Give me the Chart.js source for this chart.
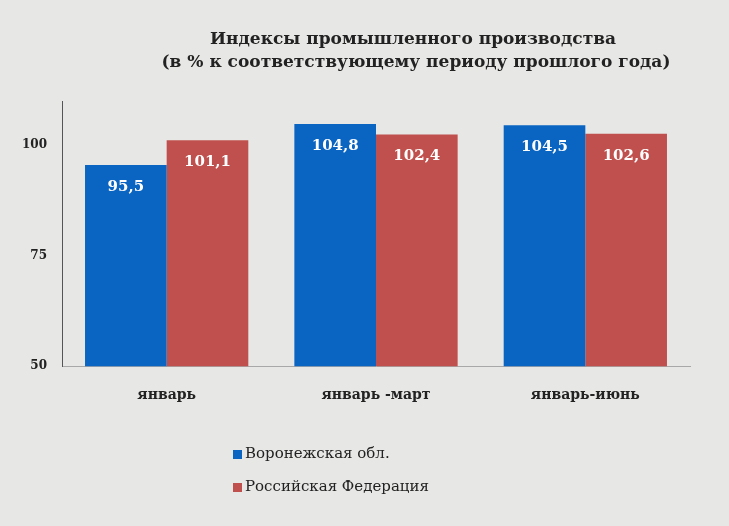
<!DOCTYPE html>
<html>
<head>
<meta charset="utf-8">
<script src="https://cdn.jsdelivr.net/npm/chart.js@4/dist/chart.umd.min.js"></script>
<style>
  html, body { margin: 0; padding: 0; background: #e7e7e5; }
  #wrap { width: 729px; height: 526px; }
</style>
</head>
<body>
<div id="wrap"><canvas id="prod-chart" width="729" height="526"></canvas></div>
<script>
var periods = ["январь", "январь -март", "январь-июнь"];
var voronezh = [95.5, 104.8, 104.5];
var russia = [101.1, 102.4, 102.6];
var seriesNames = ["Воронежская обл.", "Российская Федерация"];
var titleLines = [
  "Индексы промышленного производства",
  "(в % к соответствующему периоду прошлого года)"
];

var serif = "'DejaVu Serif', 'Liberation Serif', serif";

// title, value labels and the vertical legend are drawn by hand
var decor = {
  id: "decor",
  beforeDraw: function(chart) {
    var ctx = chart.ctx;
    ctx.save();
    ctx.fillStyle = "#e7e7e5";
    ctx.fillRect(0, 0, chart.width, chart.height);
    ctx.restore();
  },
  afterDatasetsDraw: function(chart) {
    var ctx = chart.ctx;
    ctx.save();
    ctx.fillStyle = "#ffffff";
    ctx.font = "bold 15px " + serif;
    ctx.textAlign = "center";
    ctx.textBaseline = "middle";
    chart.data.datasets.forEach(function(ds, i) {
      chart.getDatasetMeta(i).data.forEach(function(bar, j) {
        ctx.fillText(String(ds.data[j]).replace(".", ","), bar.x, bar.y + 22);
      });
    });
    ctx.restore();
  },
  afterDraw: function(chart) {
    var ctx = chart.ctx;
    ctx.save();
    ctx.fillStyle = "#222222";
    ctx.textAlign = "center";
    ctx.textBaseline = "middle";
    ctx.font = "bold 17px " + serif;
    ctx.fillText(titleLines[0], 413, 40);
    ctx.fillText(titleLines[1], 416, 63);

    ctx.textAlign = "left";
    ctx.font = "15px " + serif;
    chart.data.datasets.forEach(function(ds, i) {
      var y = 454 + i * 33;
      ctx.fillStyle = ds.backgroundColor;
      ctx.fillRect(233, y - 4, 9, 9);
      ctx.fillStyle = "#222222";
      ctx.fillText(ds.label, 245, y);
    });
    ctx.restore();
  }
};

var config = {
  type: "bar",
  data: {
    labels: periods,
    datasets: [
      {
        label: seriesNames[0],
        data: voronezh,
        backgroundColor: "#0a64c1"
      },
      {
        label: seriesNames[1],
        data: russia,
        backgroundColor: "#c0504d"
      }
    ]
  },
  options: {
    responsive: false,
    animation: false,
    layout: { padding: { top: 101, left: 8, right: 39, bottom: 101 } },
    datasets: {
      bar: { categoryPercentage: 0.78, barPercentage: 1 }
    },
    scales: {
      x: {
        grid: { display: false, drawTicks: false },
        border: { display: true, color: "#a8a8a8", width: 1 },
        ticks: {
          padding: 21,
          color: "#222222",
          font: { family: serif, size: 14, weight: "bold" }
        }
      },
      y: {
        min: 50,
        max: 110,
        afterFit: function(scale) { scale.width = 54; },
        afterBuildTicks: function(scale) {
          scale.ticks = scale.ticks.filter(function(t) { return t.value % 25 === 0; });
        },
        grid: { display: false, drawTicks: false },
        border: { display: true, color: "#555555", width: 1 },
        ticks: {
          stepSize: 25,
          padding: 15,
          color: "#222222",
          font: { family: serif, size: 12, weight: "bold" }
        }
      }
    },
    plugins: {
      legend: { display: false },
      title: { display: false },
      tooltip: { enabled: false }
    }
  },
  plugins: [decor]
};

window.onload = function() {
  var ctx = document.getElementById("prod-chart").getContext("2d");
  window.prodChart = new Chart(ctx, config);
};
</script>
</body>
</html>
